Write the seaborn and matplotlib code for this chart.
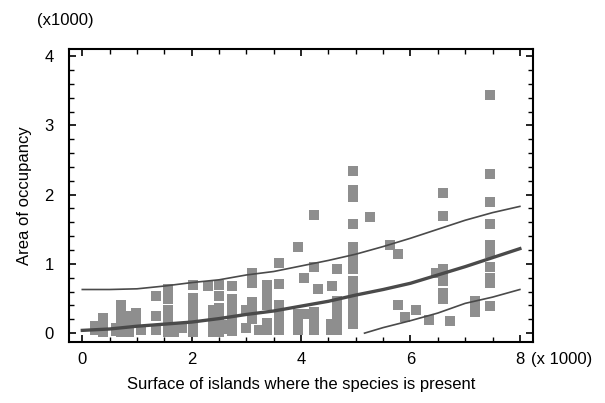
import matplotlib
matplotlib.use("Agg")
import matplotlib.pyplot as plt
import matplotlib.transforms as mtransforms
from matplotlib.ticker import MultipleLocator
import numpy as np
import pandas as pd
import seaborn as sns

# ---- data (x1000) ----
columns = [
    (0.24, [0.05, 0.10]),
    (0.37, [0.02, 0.09, 0.16, 0.22]),
    (0.61, [0.03, 0.08]),
    (0.70, [0.02, 0.10, 0.18, 0.26, 0.33, 0.40]),
    (0.85, [0.02, 0.09, 0.17, 0.25]),
    (0.98, [0.17, 0.29]),
    (1.07, [0.05]),
    (1.35, [0.05, 0.25, 0.53]),
    (1.56, [0.02, 0.10, 0.18, 0.26, 0.34, 0.50, 0.64]),
    (1.67, [0.02, 0.08]),
    (1.83, [0.08]),
    (2.02, [0.02, 0.10, 0.18, 0.26, 0.35, 0.43, 0.51, 0.70]),
    (2.30, [0.68]),
    (2.39, [0.02, 0.10, 0.18, 0.26, 0.34]),
    (2.50, [0.02, 0.10, 0.18, 0.26, 0.36, 0.53, 0.70]),
    (2.63, [0.06, 0.12]),
    (2.74, [0.03, 0.10, 0.18, 0.26, 0.34, 0.42, 0.50, 0.68]),
    (3.00, [0.08, 0.34]),
    (3.10, [0.20, 0.28, 0.34, 0.45, 0.73, 0.87]),
    (3.23, [0.05]),
    (3.38, [0.05, 0.15, 0.40, 0.48, 0.56, 0.62, 0.69]),
    (3.59, [0.04, 0.12, 0.20, 0.28, 0.41, 0.71, 1.01]),
    (3.95, [0.04, 0.12, 0.20, 0.28, 1.24]),
    (4.05, [0.28, 0.79]),
    (4.23, [0.05, 0.12, 0.20, 0.31, 0.96, 1.70]),
    (4.30, [0.64]),
    (4.54, [0.05, 0.13]),
    (4.57, [0.68]),
    (4.66, [0.04, 0.12, 0.20, 0.28, 0.36, 0.47, 0.92]),
    (4.94, [0.13, 0.23, 0.31, 0.39, 0.47, 0.55, 0.63, 0.70, 0.76, 0.92, 1.00,
            1.08, 1.16, 1.24, 1.57, 1.96, 2.06, 2.34]),
    (5.26, [1.67]),
    (5.63, [1.27]),
    (5.77, [0.41, 1.14]),
    (5.90, [0.24]),
    (6.10, [0.34]),
    (6.34, [0.19]),
    (6.46, [0.87]),
    (6.59, [0.50, 0.58, 0.76, 0.84, 0.93, 1.69, 2.02]),
    (6.73, [0.18]),
    (7.18, [0.30, 0.38, 0.46]),
    (7.45, [0.39, 0.72, 0.79, 0.96, 1.15, 1.21, 1.27, 1.57, 1.89, 2.30, 3.44]),
]
surface = [cx for cx, ys in columns for _ in ys]
occupancy = [y for _, ys in columns for y in ys]

# fitted curve and bounds
fit_x = [0, 0.5, 1, 1.5, 2, 2.5, 3, 3.5, 4, 4.5, 5, 5.5, 6, 6.5, 7, 7.5, 8]
fit_mid = [0.04, 0.06, 0.10, 0.13, 0.16, 0.21, 0.27, 0.32, 0.39, 0.46, 0.55,
           0.63, 0.72, 0.84, 0.96, 1.09, 1.22]
fit_up = [0.63, 0.63, 0.64, 0.68, 0.73, 0.77, 0.84, 0.89, 0.97, 1.05, 1.14,
          1.25, 1.37, 1.50, 1.63, 1.74, 1.83]
low_x = [5.16, 5.5, 6, 6.5, 7, 7.5, 8]
fit_low = [0.00, 0.08, 0.18, 0.29, 0.43, 0.52, 0.63]

x_ticks = [0, 2, 4, 6, 8]
y_ticks = [0, 1, 2, 3, 4]

plt.rcParams['font.family'] = ['Liberation Sans', 'DejaVu Sans']
FS = 12

fig = plt.figure(figsize=(6.05, 4.03), dpi=100)
ax = fig.add_axes([0.114, 0.151, 0.767, 0.727])

df = pd.DataFrame({"x": surface, "y": occupancy})
sns.scatterplot(data=df, x="x", y="y", marker="s", s=42, color="#8e8e8e",
                linewidth=0, ax=ax, zorder=2)

sns.lineplot(x=fit_x, y=fit_up, color="#4a4a4a", linewidth=1.2, ax=ax, zorder=3)
sns.lineplot(x=fit_x, y=fit_mid, color="#4a4a4a", linewidth=2.4, ax=ax, zorder=3)
sns.lineplot(x=low_x, y=fit_low, color="#4a4a4a", linewidth=1.2, ax=ax, zorder=3)

ax.set_xlim(-0.244, 8.24)
ax.set_ylim(-0.13, 4.1)
ax.set_xticks(x_ticks)
ax.set_yticks(y_ticks)
ax.set_xticklabels([str(t) for t in x_ticks])
ax.set_yticklabels([str(t) for t in y_ticks])
ax.xaxis.set_minor_locator(MultipleLocator(0.5))
ax.yaxis.set_minor_locator(MultipleLocator(0.2))
ax.tick_params(which="both", direction="in", top=True, right=True,
               labelsize=FS, color="black")
ax.tick_params(which="major", length=5, width=1.2)
ax.tick_params(which="minor", length=3.5, width=1.0)
ax.tick_params(axis="y", which="major", pad=11)
ax.tick_params(axis="x", which="major", pad=7)
for sp in ax.spines.values():
    sp.set_linewidth(1.5)
    sp.set_color("black")

ax.set_xlabel("Surface of islands where the species is present", fontsize=FS,
              labelpad=7)
ax.set_ylabel("Area of occupancy", fontsize=FS, labelpad=9)

trans = mtransforms.blended_transform_factory(ax.transData, ax.transAxes)
ax.text(8.2, -0.035, "(x 1000)", transform=trans, ha="left", va="top",
        fontsize=FS)
fig.text(37 / 605, 1 - 20 / 403, "(x1000)", ha="left", va="center", fontsize=FS)

fig.savefig("out.png", dpi=100)
